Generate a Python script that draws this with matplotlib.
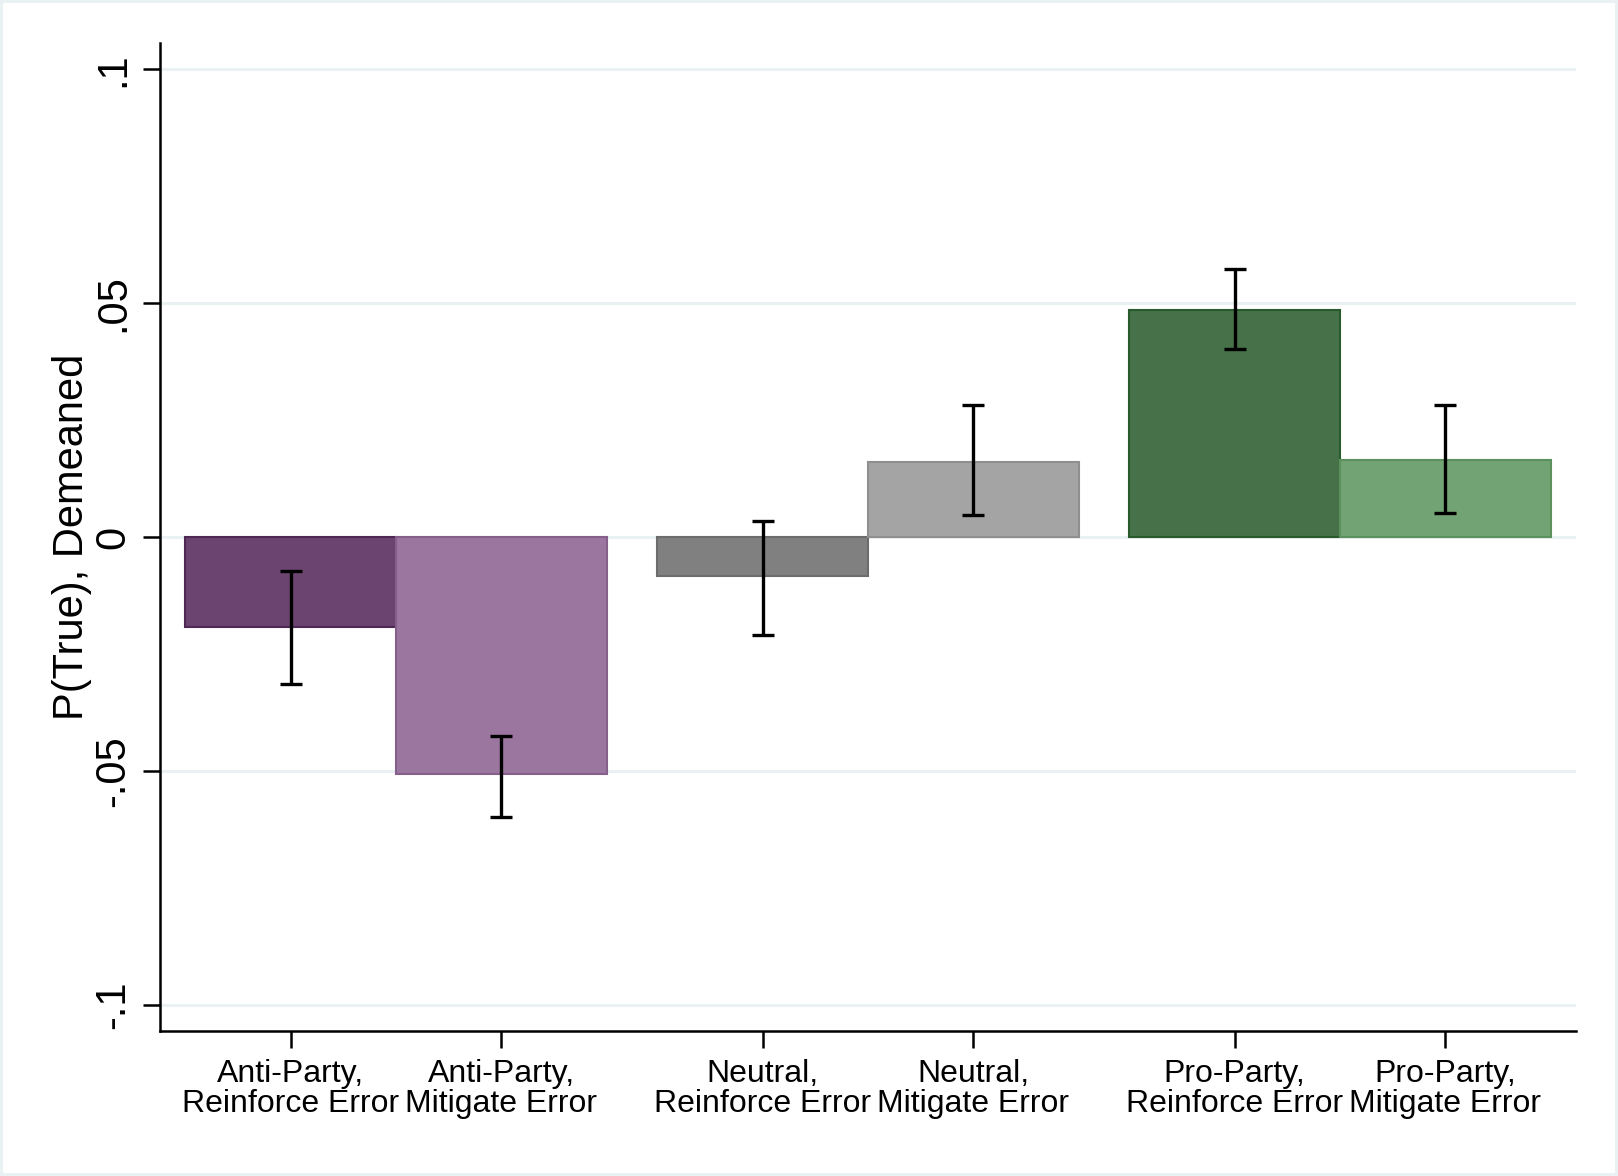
import matplotlib
matplotlib.use('Agg')
import matplotlib.pyplot as plt
import numpy as np
from matplotlib.patches import Rectangle

plt.rcParams['font.family'] = ['Liberation Sans', 'DejaVu Sans']

labels = ['Anti-Party,\nReinforce Error', 'Anti-Party,\nMitigate Error',
          'Neutral,\nReinforce Error', 'Neutral,\nMitigate Error',
          'Pro-Party,\nReinforce Error', 'Pro-Party,\nMitigate Error']
means = [-0.0192, -0.0507, -0.0084, 0.0161, 0.0485, 0.0165]
lower = [-0.0315, -0.0598, -0.0209, 0.0046, 0.0401, 0.0051]
upper = [-0.0073, -0.0425, 0.0035, 0.0282, 0.0572, 0.0282]
face = ['#6b4570', '#9b77a0', '#808080', '#a4a4a4', '#467149', '#72a374']
edge = ['#4e2954', '#865f8b', '#6c6c6c', '#8f8f8f', '#295a2c', '#5c915e']
yticks = [-0.1, -0.05, 0, 0.05, 0.1]
ytick_labels = ['-.1', '-.05', '0', '.05', '.1']

gap = 0.24
x = np.array([g * (2 + gap) + j for g in range(3) for j in range(2)])
means = np.array(means)
yerr = np.vstack([means - np.array(lower), np.array(upper) - means])

fig = plt.figure(figsize=(16.18, 11.76), dpi=100, facecolor='#eaf1f3')
fig.patches.append(Rectangle((3 / 1618, 3 / 1176), 1612 / 1618, 1170 / 1176,
                             transform=fig.transFigure, facecolor='white',
                             edgecolor='none', zorder=-10))
ax = fig.add_axes([160 / 1618, 145 / 1176, 1416 / 1618, 988 / 1176])
ax.set_facecolor('white')

for yv in yticks:
    ax.axhline(yv, color='#eaf1f3', lw=2.2, zorder=0)

ax.bar(x, means, width=1.0, color=face, edgecolor=edge, linewidth=1.5, zorder=2)
ax.errorbar(x, means, yerr=yerr, fmt='none', ecolor='black', elinewidth=2.4,
            capsize=8, capthick=2.4, zorder=3)

ax.set_xlim(-0.62, x[-1] + 0.62)
ax.set_ylim(-0.1056, 0.1056)
ax.set_yticks(yticks)
ax.set_yticklabels(ytick_labels, rotation=90, va='center', fontsize=30)
ax.set_xticks(x)
ax.set_xticklabels(labels, fontsize=23, linespacing=1.03)
ax.tick_params(axis='y', length=12, width=1.8, pad=7)
ax.tick_params(axis='x', length=12, width=1.8, pad=8)
ax.set_ylabel('P(True), Demeaned', fontsize=30, labelpad=1)

for s in ['top', 'right']:
    ax.spines[s].set_visible(False)
for s in ['left', 'bottom']:
    ax.spines[s].set_linewidth(1.8)

fig.savefig('out.png', dpi=100, facecolor=fig.get_facecolor())
